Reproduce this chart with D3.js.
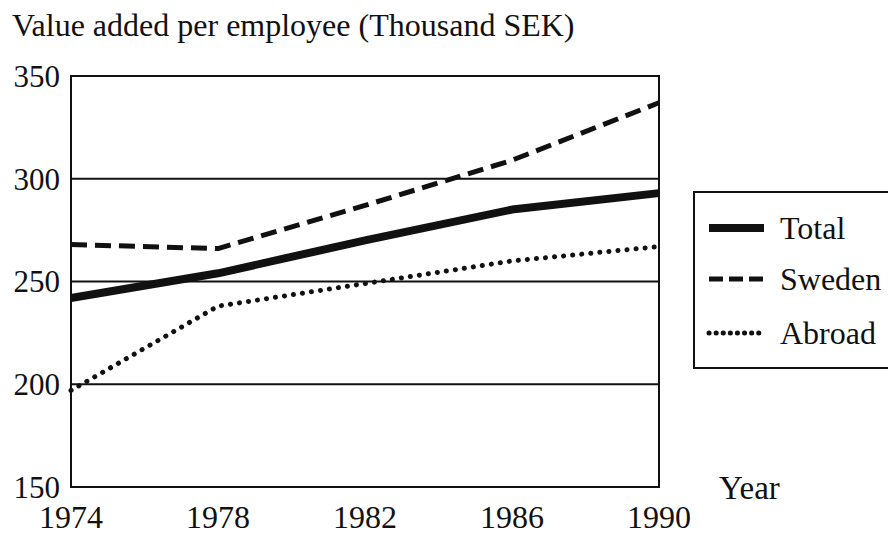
<!DOCTYPE html>
<html>
<head>
<meta charset="utf-8">
<script src="https://cdn.jsdelivr.net/npm/d3@7"></script>
<style>
  body { margin: 0; background: #fff; }
  text { font-family: "Liberation Serif", "Times New Roman", serif; fill: #111; }
</style>
</head>
<body>
<script>
var years = [1974, 1978, 1982, 1986, 1990],
    total = [242, 254, 270, 285, 293],
    sweden = [268, 266, 287, 309, 337],
    abroad = [197, 238, 249, 260, 267],
    yTicks = [150, 200, 250, 300, 350];

var series = [
  {name: "Total", values: total, width: 8, dash: null, cap: "butt"},
  {name: "Sweden", values: sweden, width: 5, dash: "16 8", cap: "butt"},
  {name: "Abroad", values: abroad, width: 5, dash: "0.1 9", cap: "round"}
];

var width = 888, height = 536,
    plotL = 71, plotR = 659, plotT = 76, plotB = 487;

var svg = d3.select("body").append("svg")
    .attr("width", width)
    .attr("height", height);

var x = d3.scaleLinear().domain([1974, 1990]).range([plotL, plotR]);
var y = d3.scaleLinear().domain([150, 350]).range([plotB, plotT]);

svg.append("text")
    .attr("x", 12).attr("y", 36)
    .style("font-size", "32px")
    .text("Value added per employee (Thousand SEK)");

// gridlines
svg.selectAll("line.grid")
    .data(yTicks.slice(1, -1))
    .enter().append("line")
    .attr("x1", plotL).attr("x2", plotR)
    .attr("y1", function(d) { return y(d); })
    .attr("y2", function(d) { return y(d); })
    .attr("stroke", "#111")
    .attr("stroke-width", 2);

svg.append("rect")
    .attr("x", plotL).attr("y", plotT)
    .attr("width", plotR - plotL).attr("height", plotB - plotT)
    .attr("fill", "none")
    .attr("stroke", "#111")
    .attr("stroke-width", 2);

svg.selectAll("text.ytick")
    .data(yTicks)
    .enter().append("text")
    .attr("x", 60)
    .attr("y", function(d) { return y(d); })
    .attr("dy", "0.35em")
    .attr("text-anchor", "end")
    .style("font-size", "31px")
    .text(function(d) { return d; });

svg.selectAll("text.xtick")
    .data(d3.range(1974, 1991, 4))
    .enter().append("text")
    .attr("x", function(d) { return x(d); })
    .attr("y", 528)
    .attr("text-anchor", "middle")
    .style("font-size", "32px")
    .text(function(d) { return d; });

svg.append("text")
    .attr("x", 719).attr("y", 499)
    .style("font-size", "33px")
    .text("Year");

var line = d3.line()
    .x(function(d, i) { return x(years[i]); })
    .y(function(d) { return y(d); });

svg.selectAll("path.series")
    .data(series)
    .enter().append("path")
    .attr("d", function(d) { return line(d.values); })
    .attr("fill", "none")
    .attr("stroke", "#111")
    .attr("stroke-width", function(d) { return d.width; })
    .attr("stroke-dasharray", function(d) { return d.dash; })
    .attr("stroke-linecap", function(d) { return d.cap; })
    .attr("stroke-linejoin", "round");

// legend
var lg = svg.append("g");
lg.append("rect")
    .attr("x", 694).attr("y", 192)
    .attr("width", 210).attr("height", 176)
    .attr("fill", "#fff")
    .attr("stroke", "#111")
    .attr("stroke-width", 2);

var item = lg.selectAll("g.item")
    .data(series)
    .enter().append("g")
    .attr("transform", function(d, i) { return "translate(0," + [228, 279, 333][i] + ")"; });

item.append("line")
    .attr("x1", 709).attr("x2", 764)
    .attr("stroke", "#111")
    .attr("stroke-width", function(d) { return d.width; })
    .attr("stroke-dasharray", function(d) { return d.dash ? (d.cap === "round" ? "0.1 7" : "14 6") : null; })
    .attr("stroke-linecap", function(d) { return d.cap; });

item.append("text")
    .attr("x", 780)
    .attr("dy", "0.35em")
    .style("font-size", "32px")
    .text(function(d) { return d.name; });
</script>
</body>
</html>
